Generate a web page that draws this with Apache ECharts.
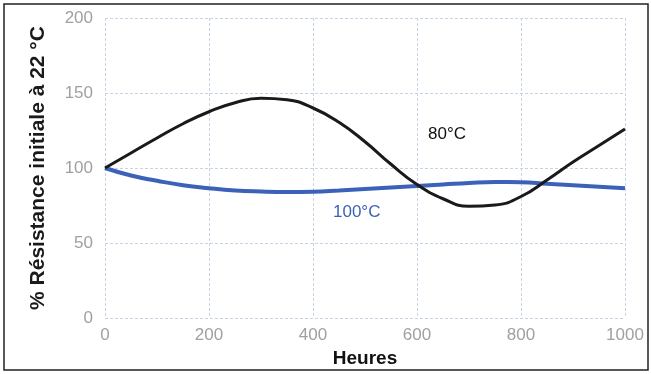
<!DOCTYPE html>
<html>
<head>
<meta charset="utf-8">
<script src="https://cdn.jsdelivr.net/npm/echarts@6/dist/echarts.min.js"></script>
<style>
html,body{margin:0;padding:0;background:#fff;}
#chart{width:651px;height:374px;}
</style>
</head>
<body>
<div id="chart"></div>
<script>
var hours = [0,50,100,150,200,250,300,350,400,450,500,550,600,650,700,750,800,850,900,950,1000];
var r80 = [100,110,120,129.5,137.5,143.5,146.5,145.5,140,130.5,117.5,102.5,89,79.5,74.5,75.3,81,92,104,115,126];
var r100 = [100,95,91.5,88.5,86.5,85,84.3,84,84.2,85,86,87,88,89,90,90.6,90.5,89.5,88.5,87.5,86.5];
var xTicks = [0,200,400,600,800,1000];
var yTicks = [0,50,100,150,200];
var label80 = '80°C';
var label100 = '100°C';
var yTitle = '% Résistance initiale à 22 °C';
var xTitle = 'Heures';

function pairs(xs, ys){ return xs.map(function(x,i){ return [x, ys[i]]; }); }

var chart = echarts.init(document.getElementById('chart'), null, {renderer:'canvas'});
var font = 'Liberation Sans, Arial, sans-serif';
chart.setOption({
  animation:false,
  backgroundColor:'#ffffff',
  grid:{left:105, right:26, top:18, bottom:56},
  xAxis:{
    type:'value', min:0, max:1000, interval:200,
    name:xTitle, nameLocation:'middle', nameGap:29,
    nameTextStyle:{fontFamily:font, fontSize:19, fontWeight:'bold', color:'#111'},
    axisLine:{show:false}, axisTick:{show:false},
    axisLabel:{fontFamily:font, fontSize:17, color:'#a0a0a0', margin:9,
      formatter:function(v){ return xTicks.indexOf(v)>=0 ? String(v) : ''; }},
    splitLine:{show:true, lineStyle:{color:'#c9d3e6', type:[3,2], width:1}}
  },
  yAxis:{
    type:'value', min:0, max:200, interval:50,
    name:yTitle, nameLocation:'middle', nameGap:56, nameRotate:90,
    nameTextStyle:{fontFamily:font, fontSize:21, fontWeight:'bold', color:'#1a1a1a'},
    axisLine:{show:false}, axisTick:{show:false},
    axisLabel:{fontFamily:font, fontSize:17, color:'#a0a0a0', margin:12,
      formatter:function(v){ return yTicks.indexOf(v)>=0 ? String(v) : ''; }},
    splitLine:{show:true, lineStyle:{color:'#c9d3e6', type:[3,2], width:1}}
  },
  series:[
    {type:'line', name:label100, data:pairs(hours,r100), smooth:0.5, showSymbol:false,
     lineStyle:{color:'#3b62b8', width:4}, z:2},
    {type:'line', name:label80, data:pairs(hours,r80), smooth:0.5, showSymbol:false,
     lineStyle:{color:'#1a1a1a', width:3}, z:3}
  ],
  graphic:[
    {type:'text', left:428, top:126, style:{text:label80, fontFamily:font, fontSize:17, fill:'#111'}},
    {type:'text', left:333, top:204, style:{text:label100, fontFamily:font, fontSize:17, fill:'#3b62b8'}},
    {type:'rect', shape:{x:4, y:4, width:644, height:366}, style:{fill:'none', stroke:'#222', lineWidth:1.5}, silent:true}
  ]
});
</script>
</body>
</html>
